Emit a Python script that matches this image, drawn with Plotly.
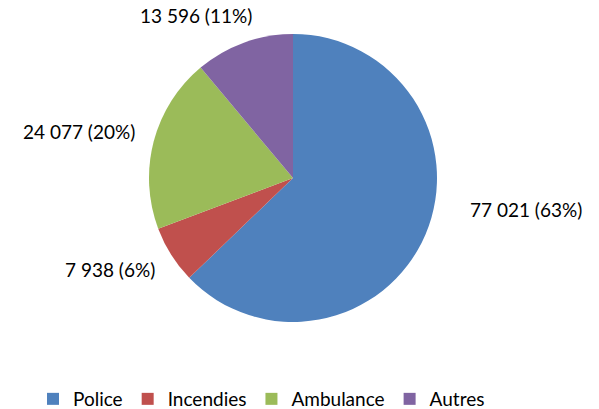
import plotly.graph_objects as go

categories = ["Police", "Incendies", "Ambulance", "Autres"]
values = [77021, 7938, 24077, 13596]
pct_labels = ["63%", "6%", "20%", "11%"]
colors = ["#4F81BD", "#C0504D", "#9BBB59", "#8064A2"]

# label anchor positions (pixels from top-left) for each slice label
label_pos = [(526, 209), (110, 269), (79, 132), (196, 16)]
W, H = 599, 409

def fmt(v):
    return f"{v:,}".replace(",", " ")

fig = go.Figure(go.Pie(
    labels=categories,
    values=values,
    marker=dict(colors=colors, line=dict(width=0)),
    sort=False,
    direction="clockwise",
    rotation=0,
    textinfo="none",
    hoverinfo="label+value+percent",
    domain=dict(x=[(293 - 144) / W, (293 + 144) / W],
                y=[(H - 178 - 144) / H, (H - 178 + 144) / H]),
))

for c, v, p, (x, y) in zip(categories, values, pct_labels, label_pos):
    fig.add_annotation(
        x=x / W, y=1 - y / H, xref="paper", yref="paper",
        text=f"{fmt(v)} ({p})", showarrow=False,
        xanchor="center", yanchor="middle",
        font=dict(family="Lato", size=19, color="#000000"),
    )

fig.update_layout(
    width=W, height=H,
    margin=dict(l=0, r=0, t=0, b=0, autoexpand=False),
    paper_bgcolor="white", plot_bgcolor="white",
    font=dict(family="Lato", size=18, color="#000000"),
    legend=dict(orientation="h", x=33 / W, xanchor="left",
                y=1 - 399 / H, yanchor="middle",
                font=dict(family="Lato", size=19, color="#000000"),
                itemclick=False),
)

fig.write_html("out.html",
               config={"displayModeBar": False},
               post_script="document.body.style.margin='0';document.body.style.overflow='hidden';")
